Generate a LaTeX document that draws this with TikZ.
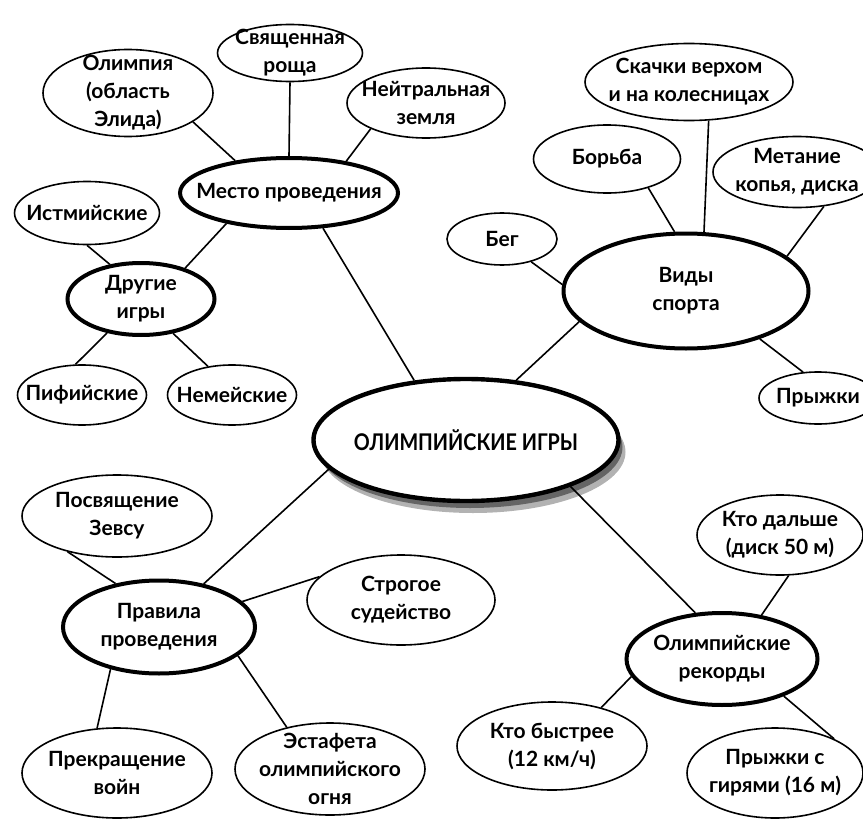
\documentclass[tikz,border=0pt]{standalone}
\usepackage{fontspec}
\setmainfont{Lato}
\newfontfamily\titlefont[FakeStretch=0.86]{Lato}
\usetikzlibrary{shapes.geometric,shadows}

\begin{document}
\begin{tikzpicture}[x=0.5pt,y=-0.5pt,
	sz/.style 2 args={minimum width=#1*0.5pt, minimum height=#2*0.5pt},
	leaf/.style={ellipse, draw, line width=0.8pt, inner sep=-10pt, align=center, font=\bfseries\fontsize{10.5}{14}\selectfont},
	hub/.style={leaf, line width=2pt},
	root/.style={ellipse, draw, fill=white, line width=2.2pt, inner sep=-10pt, font=\titlefont\bfseries\fontsize{11.5}{14}\selectfont,
		drop shadow={shadow xshift=3.5pt, shadow yshift=-6pt, opacity=0.3, fill=black},
		drop shadow={shadow xshift=2pt, shadow yshift=-3.5pt, opacity=0.6, fill=black!80}},
	link/.style={line width=0.8pt}]
\useasboundingbox (0,0) rectangle (863,819);
\clip (0,0) rectangle (863,819);
\fill[white] (0,0) rectangle (863,819);
\node[leaf, sz={145}{57}] (svyash) at (290,53) {Священная\\роща};
\node[leaf, sz={170}{87}] (olimp) at (128,93) {Олимпия\\(область\\Элида)};
\node[leaf, sz={158}{70}] (neitr) at (426,103) {Нейтральная\\земля};
\node[hub, sz={218}{70}] (mesto) at (289,193) {Место проведения};
\node[leaf, sz={145}{63}] (istm) at (87,213) {Истмийские};
\node[hub, sz={147}{72}] (drugie) at (141,299) {Другие\\игры};
\node[leaf, sz={129}{60}] (pif) at (82,395) {Пифийские};
\node[leaf, sz={129}{60}] (nem) at (232,395) {Немейские};
\node[root, sz={305}{122}] (centr) at (466,440) {ОЛИМПИЙСКИЕ ИГРЫ};
\node[leaf, sz={110}{52}] (beg) at (502,239) {Бег};
\node[leaf, sz={147}{68}] (borba) at (607,159) {Борьба};
\node[leaf, sz={208}{77}] (skachki) at (689,82) {Скачки верхом\\и на колесницах};
\node[leaf, sz={168}{71}] (metanie) at (797,172) {Метание\\копья, диска};
\node[hub, sz={245}{115}] (vidy) at (686,291) {Виды\\спорта};
\node[leaf, sz={118}{52}] (pryzhki) at (818,398) {Прыжки};
\node[leaf, sz={190}{82}] (posv) at (117,516) {Посвящение\\Зевсу};
\node[hub, sz={192}{93}] (pravila) at (159,627) {Правила\\проведения};
\node[leaf, sz={188}{90}] (strog) at (401,600) {Строгое\\судейство};
\node[leaf, sz={190}{90}] (prekr) at (117,773) {Прекращение\\войн};
\node[leaf, sz={190}{92}] (estaf) at (330,769) {Эстафета\\олимпийского\\огня};
\node[leaf, sz={166}{80}] (dalshe) at (780,535) {Кто дальше\\(диск 50 м)};
\node[hub, sz={191}{92}] (rekordy) at (722,659) {Олимпийские\\рекорды};
\node[leaf, sz={190}{88}] (bystree) at (552,746) {Кто быстрее\\(12 км/ч)};
\node[leaf, sz={176}{90}] (giri) at (775,773) {Прыжки с\\гирями (16 м)};
\foreach \a/\b in {mesto.149/olimp.336, mesto.90/svyash.270, mesto.29/neitr.205, mesto.206/drugie.35, mesto.314/centr.131,
	drugie.132/istm.270, drugie.225/pif.102, drugie.313/nem.130,
	vidy.177/beg.322, vidy.101/borba.325, vidy.73/skachki.297, vidy.19/metanie.308, vidy.327/pryzhki.120, vidy.196/centr.50,
	centr.192/pravila.44, centr.336/rekordy.120,
	pravila.135/posv.216, pravila.17/strog.164, pravila.221/prekr.114, pravila.340/estaf.136,
	rekordy.48/dalshe.282, rekordy.191/bystree.38, rekordy.329/giri.30} {
	\draw[link] (\a) -- (\b);
	};
\end{tikzpicture}
\end{document}
